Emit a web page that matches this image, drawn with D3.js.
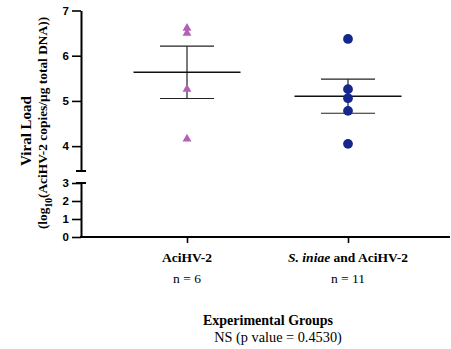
<!DOCTYPE html>
<html>
<head>
<meta charset="utf-8">
<script src="https://cdn.jsdelivr.net/npm/d3@7"></script>
<style>
  html, body { margin: 0; padding: 0; background: #fff; }
  svg { display: block; }
</style>
</head>
<body>
<svg id="chart" width="451" height="349"></svg>
<script>
// Groups and measured viral loads (log10 copies / µg total DNA)
const groups = ["AciHV-2", "S. iniae and AciHV-2"];
const groupN = ["n = 6", "n = 11"];
const aciValues = [6.61, 6.50, 5.26, 4.16];
const coValues = [6.37, 5.26, 5.06, 4.78, 4.05];
const upperTicks = [4, 5, 6, 7];
const lowerTicks = [0, 1, 2, 3];
const colors = ["#b35fb5", "#13278c"];

const svg = d3.select("#chart");
const axisX = 81;
const xRight = 450;

// Broken y axis: upper segment 3.45–7, lower segment 0–3
const yUpper = d3.scaleLinear().domain([3.45, 7]).range([171, 10.5]);
const yLower = d3.scaleLinear().domain([0, 3]).range([237, 183]);
const x = d3.scalePoint().domain(groups).range([187, 348]);

const tickFont = "bold 11.5px 'Liberation Sans', Arial, sans-serif";

function drawSegment(scale, ticks) {
  const g = svg.append("g").attr("transform", `translate(${axisX},0)`);
  const ax = d3.axisLeft(scale).tickValues(ticks).tickFormat(d3.format("d"))
    .tickSize(9).tickPadding(3).tickSizeOuter(0);
  g.call(ax);
  g.select(".domain").attr("stroke", "#000").attr("stroke-width", 2);
  g.selectAll(".tick line").attr("stroke", "#000").attr("stroke-width", 1.6);
  g.selectAll(".tick text").style("font", tickFont).attr("fill", "#000");
  return g;
}
drawSegment(yUpper, upperTicks);
drawSegment(yLower, lowerTicks);

// Break caps
svg.append("line").attr("x1", axisX - 5).attr("x2", axisX + 5)
  .attr("y1", yUpper(3.45)).attr("y2", yUpper(3.45)).attr("stroke", "#000").attr("stroke-width", 2);
svg.append("line").attr("x1", axisX - 5).attr("x2", axisX + 5)
  .attr("y1", yLower(3)).attr("y2", yLower(3)).attr("stroke", "#000").attr("stroke-width", 2);

// X axis
const gx = svg.append("g").attr("transform", `translate(0,${yLower(0)})`);
gx.call(d3.axisBottom(x).tickSize(6).tickFormat(""));
gx.select(".domain").remove();
gx.selectAll(".tick line").attr("stroke", "#000").attr("stroke-width", 1.6);
svg.append("line").attr("x1", axisX - 1).attr("x2", xRight)
  .attr("y1", yLower(0)).attr("y2", yLower(0)).attr("stroke", "#000").attr("stroke-width", 2);

// Category labels
const serif = "'Liberation Serif', 'Times New Roman', serif";
svg.append("text").attr("x", x(groups[0])).attr("y", 262)
  .attr("text-anchor", "middle").style("font-family", serif).style("font-size", "13.5px")
  .style("font-weight", "bold").text(groups[0]);
const lab2 = svg.append("text").attr("x", x(groups[1])).attr("y", 262)
  .attr("text-anchor", "middle").style("font-family", serif).style("font-size", "13.5px")
  .style("font-weight", "bold");
lab2.append("tspan").style("font-style", "italic").text("S. iniae");
lab2.append("tspan").text(" and AciHV-2");

groupN.forEach((t, i) => {
  svg.append("text").attr("x", x(groups[i])).attr("y", 283)
    .attr("text-anchor", "middle").style("font-family", serif).style("font-size", "13.5px")
    .text(t);
});

svg.append("text").attr("x", 268).attr("y", 325).attr("text-anchor", "middle")
  .style("font-family", serif).style("font-size", "14px").style("font-weight", "bold")
  .text("Experimental Groups");
svg.append("text").attr("x", 278).attr("y", 342).attr("text-anchor", "middle")
  .style("font-family", serif).style("font-size", "14.3px")
  .text("NS (p value = 0.4530)");

// Y title (two rotated lines)
svg.append("text").attr("transform", "translate(31,131) rotate(-90)")
  .attr("text-anchor", "middle").style("font-family", serif).style("font-size", "15px")
  .style("font-weight", "bold").text("Viral Load");
const ty2 = svg.append("text").attr("transform", "translate(47,123) rotate(-90)")
  .attr("text-anchor", "middle").style("font-family", serif).style("font-size", "13.4px")
  .style("font-weight", "bold");
ty2.append("tspan").text("(log");
ty2.append("tspan").attr("baseline-shift", "sub").style("font-size", "9.5px").text("10");
ty2.append("tspan").text("(AciHV-2 copies/µg total DNA))");

// Mean ± SEM bars and points
const series = [aciValues, coValues];
series.forEach((vals, i) => {
  const cx = x(groups[i]);
  const m = d3.mean(vals);
  const sem = d3.deviation(vals) / Math.sqrt(vals.length);
  const g = svg.append("g");
  g.append("line").attr("x1", cx).attr("x2", cx)
    .attr("y1", yUpper(m + sem)).attr("y2", yUpper(m - sem))
    .attr("stroke", "#222").attr("stroke-width", 1.2);
  [m + sem, m - sem].forEach(v => {
    g.append("line").attr("x1", cx - 27).attr("x2", cx + 27)
      .attr("y1", yUpper(v)).attr("y2", yUpper(v))
      .attr("stroke", "#222").attr("stroke-width", 1.2);
  });
  g.append("line").attr("x1", cx - 53.5).attr("x2", cx + 53.5)
    .attr("y1", yUpper(m)).attr("y2", yUpper(m))
    .attr("stroke", "#111").attr("stroke-width", 1.5);

  const sym = i === 0 ? d3.symbol().type(d3.symbolTriangle).size(34)
                      : d3.symbol().type(d3.symbolCircle).size(75);
  g.selectAll("path.pt").data(vals).join("path")
    .attr("class", "pt")
    .attr("d", sym)
    .attr("transform", d => `translate(${cx},${yUpper(d)})`)
    .attr("fill", colors[i]);
});
</script>
</body>
</html>
